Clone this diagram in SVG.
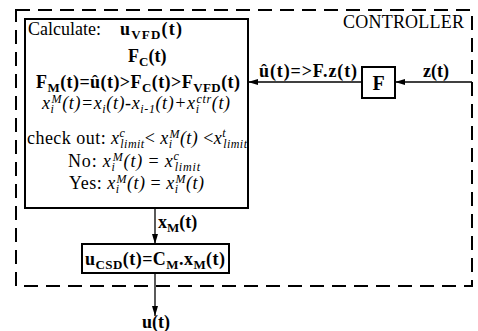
<svg xmlns="http://www.w3.org/2000/svg" width="478" height="331" viewBox="0 0 478 331" font-family="Liberation Serif, DejaVu Serif, serif">
<defs>
<style>
text{font-family:"Liberation Serif","DejaVu Serif",serif;fill:#000}
.b{font-weight:bold;font-size:18px}
.r{font-size:18px}
.i{font-style:italic}
.s{font-size:13px}
.ss{font-size:12px}
.box{fill:#fff;stroke:#000;stroke-width:2}
.ln{stroke:#000;stroke-width:1.3;fill:none}
</style>
<marker id="ah" viewBox="0 0 10 6" refX="10" refY="3" markerWidth="10" markerHeight="6" markerUnits="userSpaceOnUse" orient="auto">
<path d="M0,0 L10,3 L0,6 Z" fill="#000"/>
</marker>
</defs>
<rect width="478" height="331" fill="#fff"/>
<g id="controller">
<rect x="16" y="10" width="456" height="276" fill="none" stroke="#000" stroke-width="2" stroke-dasharray="14 8"/>
<text class="r" x="343" y="28" textLength="121">CONTROLLER</text>
</g>
<g id="connectors">
<line class="ln" x1="472" y1="82" x2="395" y2="82" marker-end="url(#ah)"/>
<line class="ln" x1="362" y1="82" x2="248" y2="82" marker-end="url(#ah)"/>
<line class="ln" x1="155" y1="208" x2="155" y2="244" marker-end="url(#ah)"/>
<line class="ln" x1="155" y1="273" x2="155" y2="316" marker-end="url(#ah)"/>
<text class="b" x="423" y="77">z(t)</text>
<text class="b" x="259" y="77" textLength="98">û(t)=&gt;F.z(t)</text>
<text class="b" x="158" y="228">x<tspan class="s" dy="4">M</tspan><tspan dy="-4">(t)</tspan></text>
<text class="b" x="142" y="328">u(t)</text>
</g>
<g id="calc">
<rect class="box" x="25" y="19" width="223" height="189"/>
<text class="r" x="28" y="35">Calculate:</text>
<text class="b" x="120" y="35" textLength="62">u<tspan class="s" dy="4">VFD</tspan><tspan dy="-4">(t)</tspan></text>
<text class="b" x="128" y="62">F<tspan class="s" dy="4">C</tspan><tspan dy="-4">(t)</tspan></text>
<text class="b" x="36" y="88" textLength="204">F<tspan class="s" dy="4">M</tspan><tspan dy="-4">(t)=û(t)&gt;F</tspan><tspan class="s" dy="4">C</tspan><tspan dy="-4">(t)&gt;F</tspan><tspan class="s" dy="4">VFD</tspan><tspan dy="-4">(t)</tspan></text>
<text class="r i" x="42" y="109" textLength="188">x<tspan class="ss" dy="4">i</tspan><tspan class="ss" dx="-3" dy="-10">M</tspan><tspan dy="6">(t)=x</tspan><tspan class="ss" dy="4">i</tspan><tspan dy="-4">(t)-x</tspan><tspan class="ss" dy="4">i-1</tspan><tspan dy="-4">(t)+x</tspan><tspan class="ss" dy="4">i</tspan><tspan class="ss" dx="-3" dy="-10">ctr</tspan><tspan dy="6">(t)</tspan></text>
<text class="r" x="27" y="144" textLength="220">check out: <tspan class="i">x</tspan><tspan class="ss i" dy="-7">c</tspan><tspan class="ss i" dx="-5" dy="11">limit</tspan><tspan dy="-4">&lt; </tspan><tspan class="i">x</tspan><tspan class="ss i" dy="4">i</tspan><tspan class="ss i" dx="-3" dy="-10">M</tspan><tspan class="i" dy="6">(t)</tspan><tspan> &lt;</tspan><tspan class="i">x</tspan><tspan class="ss i" dy="-7">t</tspan><tspan class="ss i" dx="-3" dy="11">limit</tspan></text>
<text class="r" x="68" y="167" textLength="132">No: <tspan class="i">x</tspan><tspan class="ss i" dy="4">i</tspan><tspan class="ss i" dx="-3" dy="-10">M</tspan><tspan class="i" dy="6">(t)</tspan><tspan> = </tspan><tspan class="i">x</tspan><tspan class="ss i" dy="-7">c</tspan><tspan class="ss i" dx="-5" dy="11">limit</tspan></text>
<text class="r" x="69" y="189" textLength="135">Yes: <tspan class="i">x</tspan><tspan class="ss i" dy="4">i</tspan><tspan class="ss i" dx="-3" dy="-10">M</tspan><tspan class="i" dy="6">(t)</tspan><tspan> = </tspan><tspan class="i">x</tspan><tspan class="ss i" dy="4">i</tspan><tspan class="ss i" dx="-3" dy="-10">M</tspan><tspan class="i" dy="6">(t)</tspan></text>
</g>
<g id="F">
<rect class="box" x="362" y="67" width="33" height="31"/>
<text class="b" x="378.5" y="90" text-anchor="middle" style="font-size:20px">F</text>
</g>
<g id="csd">
<rect class="box" x="82" y="244" width="147" height="29"/>
<text class="b" x="85" y="265" textLength="140">u<tspan class="s" dy="4">CSD</tspan><tspan dy="-4">(t)=C</tspan><tspan class="s" dy="4">M</tspan><tspan dy="-4">.x</tspan><tspan class="s" dy="4">M</tspan><tspan dy="-4">(t)</tspan></text>
</g>
</svg>
